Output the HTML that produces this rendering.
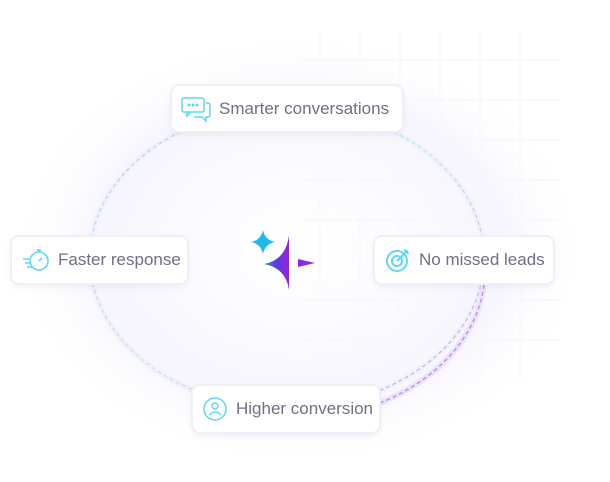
<!DOCTYPE html>
<html><head><style>
html,body{margin:0;padding:0;width:610px;height:482px;background:#fff;overflow:hidden;font-family:"Liberation Sans",sans-serif;}
.box{position:absolute;background:#fff;border-radius:7px;box-shadow:0 0 0 2px #f0eff6,0 3px 8px rgba(120,110,170,0.14);display:flex;align-items:center;color:#6e7083;font-size:17px;box-sizing:border-box;white-space:nowrap;}
.box svg{margin-right:8px;flex:none}
</style></head><body>
<svg width="610" height="482" style="position:absolute;left:0;top:0">
<defs>
<radialGradient id="glow" cx="50%" cy="50%" r="50%">
<stop offset="0" stop-color="#fff"/>
<stop offset="0.4" stop-color="#fbfafe"/>
<stop offset="0.7" stop-color="#f7f5fd"/>
<stop offset="1" stop-color="#fff" stop-opacity="0"/>
</radialGradient>
<linearGradient id="star" x1="0" y1="0" x2="1" y2="0">
<stop offset="0" stop-color="#2a8af0"/><stop offset="0.5" stop-color="#5a3ce0"/><stop offset="1" stop-color="#9b1fe0"/>
</linearGradient>
<linearGradient id="ring" x1="0" y1="0" x2="1" y2="1">
<stop offset="0" stop-color="#b8c8f0"/><stop offset="0.5" stop-color="#c0e8f8"/><stop offset="1" stop-color="#cc9ae8"/>
</linearGradient>
</defs>
<ellipse cx="300" cy="250" rx="290" ry="220" fill="url(#glow)"/>
<g stroke="#f6f6f9" stroke-width="1">
<line x1="320" y1="30" x2="320" y2="380"/><line x1="360" y1="30" x2="360" y2="380"/><line x1="400" y1="30" x2="400" y2="380"/><line x1="440" y1="30" x2="440" y2="380"/><line x1="480" y1="30" x2="480" y2="380"/><line x1="520" y1="30" x2="520" y2="380"/>
<line x1="300" y1="60" x2="560" y2="60"/><line x1="300" y1="100" x2="560" y2="100"/><line x1="300" y1="140" x2="560" y2="140"/><line x1="300" y1="180" x2="560" y2="180"/><line x1="300" y1="220" x2="560" y2="220"/><line x1="300" y1="300" x2="560" y2="300"/><line x1="300" y1="340" x2="560" y2="340"/>
</g>
<ellipse cx="287" cy="258" rx="197" ry="150" fill="none" stroke="#f1f2fb" stroke-width="6"/>
<ellipse cx="287" cy="258" rx="197" ry="150" fill="none" stroke="url(#ring)" stroke-width="1.3" stroke-dasharray="4 3"/>
<path d="M484 285 A197 150 0 0 1 380 403" fill="none" stroke="#ece2fa" stroke-width="6"/>
<path d="M484 285 A197 150 0 0 1 380 403" fill="none" stroke="#b68ae6" stroke-width="1.3" stroke-dasharray="4 3"/>
<path d="M263 230 Q265 240 275 242 Q265 244 263 254 Q261 244 251 242 Q261 240 263 230Z" fill="#1eb8ec"/>
<path d="M289 235 L289 290 Q286 268 264 264 Q286 260 289 235Z" fill="url(#star)"/>
<path d="M298 259 L315 263 L298 267Z" fill="#8a2be2"/>
</svg>

<div class="box" style="left:172px;top:86px;width:230px;height:45px;padding-left:9px;">
<svg width="30" height="26" viewBox="0 0 30 26" fill="none" stroke="#5fd6f5" stroke-width="1.5"><rect x="1" y="2" width="22" height="14" rx="2"/><path d="M6 16v4l4-4"/><path d="M25 7h2a2 2 0 0 1 2 2v10a2 2 0 0 1-2 2h-2v4l-4-4h-8"/><circle cx="8" cy="9" r="0.8" fill="#5fd6f5"/><circle cx="12" cy="9" r="0.8" fill="#5fd6f5"/><circle cx="16" cy="9" r="0.8" fill="#5fd6f5"/></svg>
Smarter conversations</div>

<div class="box" style="left:12px;top:237px;width:175px;height:46px;padding-left:10px;">
<svg width="28" height="26" viewBox="0 0 28 26" fill="none" stroke="#5fd6f5" stroke-width="1.6"><circle cx="17" cy="14" r="9"/><path d="M15 3h4M17 3v2M17 14l3-3M1 12h6M3 16h5M5 20h5"/></svg>
Faster response</div>

<div class="box" style="left:375px;top:237px;width:178px;height:46px;padding-left:10px;">
<svg width="26" height="26" viewBox="0 0 26 26" fill="none" stroke="#5fd6f5" stroke-width="2"><circle cx="12" cy="14" r="10"/><circle cx="12" cy="14" r="5"/><path d="M12 14l10-10M19 3l3 1 1 3"/></svg>
No missed leads</div>

<div class="box" style="left:193px;top:386px;width:186px;height:46px;padding-left:9px;">
<svg width="26" height="26" viewBox="0 0 26 26" fill="none" stroke="#5fd6f5" stroke-width="1.5"><circle cx="13" cy="13" r="11"/><circle cx="13" cy="10" r="3"/><path d="M7 19q6-6 12 0"/></svg>
Higher conversion</div>
</body></html>
